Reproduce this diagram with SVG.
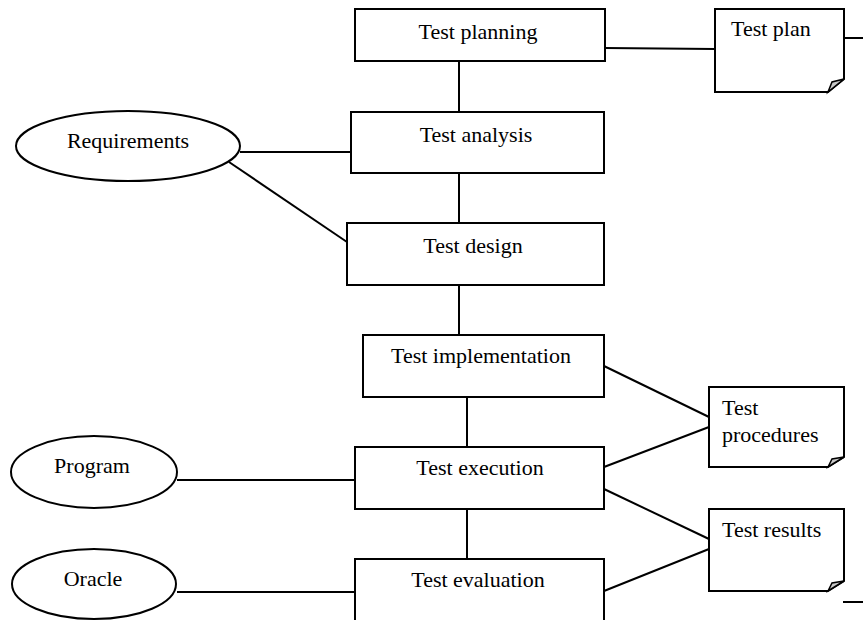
<svg xmlns="http://www.w3.org/2000/svg" width="863" height="620" viewBox="0 0 863 620">
<style>
.b{fill:#fff;stroke:#000;stroke-width:2}
.c line{stroke:#000;stroke-width:2}
.f{fill:#c8c8c8;stroke:#000;stroke-width:1.5}
.t{font-family:'Liberation Serif','Times New Roman',Times,'DejaVu Serif',serif;font-size:22px;fill:#000}
.m{text-anchor:middle}
</style>
<rect width="863" height="620" fill="#fff"/>
<g id="connectors" class="c">
<line x1="459" y1="61" x2="459" y2="112"/>
<line x1="459" y1="173" x2="459" y2="223"/>
<line x1="459" y1="285" x2="459" y2="335"/>
<line x1="467" y1="397" x2="467" y2="447"/>
<line x1="467" y1="509" x2="467" y2="559"/>
<line x1="605" y1="48" x2="715" y2="49"/>
<line x1="844" y1="38" x2="863" y2="38"/>
<line x1="240" y1="152" x2="351" y2="152"/>
<line x1="229" y1="162" x2="347" y2="242"/>
<line x1="604" y1="366" x2="709" y2="417"/>
<line x1="604" y1="467" x2="709" y2="427"/>
<line x1="604" y1="489" x2="709" y2="539"/>
<line x1="604" y1="591" x2="709" y2="549"/>
<line x1="177" y1="480" x2="355" y2="480"/>
<line x1="177" y1="592" x2="355" y2="592"/>
<line x1="843" y1="602" x2="863" y2="602"/>
</g>
<g class="t" font-family="Liberation Serif, Times New Roman, serif">
<g id="test-planning"><rect class="b" x="355" y="9" width="250" height="52"/><text class="m" x="478" y="39">Test planning</text></g>
<g id="test-plan"><path class="b" d="M715,9 H844 V79 L828,92 H715 Z"/><path class="f" d="M828,92 L832,82 L844,79 Z"/><text x="731" y="36">Test plan</text></g>
<g id="requirements"><ellipse class="b" cx="128" cy="146" rx="112" ry="35"/><text class="m" x="128" y="148">Requirements</text></g>
<g id="test-analysis"><rect class="b" x="351" y="112" width="253" height="61"/><text class="m" x="476" y="142">Test analysis</text></g>
<g id="test-design"><rect class="b" x="347" y="223" width="257" height="62"/><text class="m" x="473" y="253">Test design</text></g>
<g id="test-implementation"><rect class="b" x="363" y="335" width="241" height="62"/><text class="m" x="481" y="363">Test implementation</text></g>
<g id="test-procedures"><path class="b" d="M709,387 H844 V457 L828,467 H709 Z"/><path class="f" d="M828,467 L832,459 L844,457 Z"/><text x="722" y="415">Test</text><text x="722" y="442">procedures</text></g>
<g id="program"><ellipse class="b" cx="94" cy="472" rx="83" ry="36"/><text class="m" x="92" y="473">Program</text></g>
<g id="test-execution"><rect class="b" x="355" y="447" width="249" height="62"/><text class="m" x="480" y="475">Test execution</text></g>
<g id="test-results"><path class="b" d="M709,509 H844 V581 L828,591 H709 Z"/><path class="f" d="M828,591 L832,583 L844,581 Z"/><text x="722" y="537">Test results</text></g>
<g id="oracle"><ellipse class="b" cx="94" cy="584" rx="82" ry="35"/><text class="m" x="93" y="586">Oracle</text></g>
<g id="test-evaluation"><rect class="b" x="355" y="559" width="249" height="80"/><text class="m" x="478" y="587">Test evaluation</text></g>
</g>
</svg>
